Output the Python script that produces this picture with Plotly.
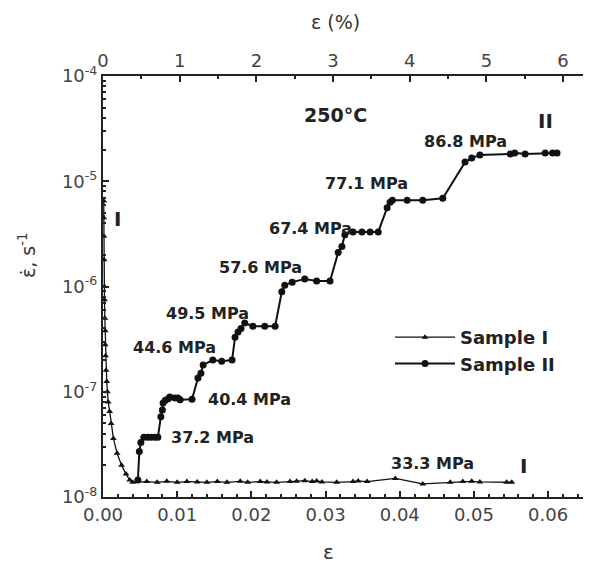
import plotly.graph_objects as go

# ---------------- data ----------------
sample1_strain = [0.0001, 0.0001, 0.00012, 0.00015, 0.0002, 0.0002, 0.00025, 0.0003, 0.0003, 0.00035,
                  0.0004, 0.0005, 0.0006, 0.0007, 0.0009, 0.0011, 0.0014, 0.0019, 0.0025, 0.0031,
                  0.0036, 0.0040, 0.0059, 0.0073, 0.0086, 0.0100, 0.0113, 0.0127, 0.0140, 0.0154,
                  0.0167, 0.0185, 0.0195, 0.0212, 0.0221, 0.0234, 0.0252, 0.0261, 0.0272, 0.0282,
                  0.0288, 0.0295, 0.0315, 0.0337, 0.0344, 0.0356, 0.0394, 0.0431, 0.0468, 0.0485,
                  0.0497, 0.0508, 0.0544, 0.0551]
sample1_rate = [6.5e-6, 4.5e-6, 3.0e-6, 1.8e-6, 1.0e-6, 7.5e-7, 5.0e-7, 3.8e-7, 2.8e-7, 2.2e-7,
                1.6e-7, 1.25e-7, 1.0e-7, 8.0e-8, 6.5e-8, 5.0e-8, 3.6e-8, 2.6e-8, 2.0e-8, 1.65e-8,
                1.45e-8, 1.38e-8, 1.40e-8, 1.38e-8, 1.41e-8, 1.38e-8, 1.40e-8, 1.39e-8, 1.38e-8, 1.40e-8,
                1.38e-8, 1.41e-8, 1.38e-8, 1.40e-8, 1.39e-8, 1.38e-8, 1.40e-8, 1.41e-8, 1.43e-8, 1.40e-8,
                1.42e-8, 1.39e-8, 1.38e-8, 1.40e-8, 1.42e-8, 1.40e-8, 1.50e-8, 1.33e-8, 1.38e-8, 1.40e-8,
                1.41e-8, 1.39e-8, 1.38e-8, 1.38e-8]

sample2_strain = [0.0047, 0.0049, 0.0051, 0.0055, 0.0060, 0.0065, 0.0070, 0.0074, 0.0078, 0.0080,
                  0.0081, 0.0084, 0.0088, 0.0090, 0.0097, 0.0101, 0.0104, 0.0120, 0.0128, 0.0132,
                  0.0135, 0.0148, 0.0160, 0.0174, 0.0178, 0.0182, 0.0186, 0.0191, 0.0202, 0.0218,
                  0.0232, 0.0241, 0.0245, 0.0255, 0.0272, 0.0288, 0.0306, 0.0317, 0.0322, 0.0326,
                  0.0337, 0.0349, 0.0360, 0.0371, 0.0383, 0.0387, 0.0390, 0.0410, 0.0431, 0.0458,
                  0.0488, 0.0497, 0.0508, 0.0549, 0.0555, 0.0569, 0.0596, 0.0606, 0.0612]
sample2_rate = [1.45e-8, 2.7e-8, 3.3e-8, 3.7e-8, 3.7e-8, 3.7e-8, 3.7e-8, 3.7e-8, 5.8e-8, 6.7e-8,
                7.8e-8, 8.3e-8, 8.6e-8, 8.9e-8, 8.7e-8, 8.7e-8, 8.4e-8, 8.5e-8, 1.35e-7, 1.5e-7,
                1.8e-7, 2.0e-7, 1.95e-7, 2.0e-7, 3.3e-7, 3.7e-7, 4.0e-7, 4.5e-7, 4.2e-7, 4.2e-7,
                4.2e-7, 8.9e-7, 1.03e-6, 1.10e-6, 1.18e-6, 1.13e-6, 1.13e-6, 2.1e-6, 2.4e-6, 3.1e-6,
                3.3e-6, 3.3e-6, 3.3e-6, 3.3e-6, 5.6e-6, 6.3e-6, 6.6e-6, 6.6e-6, 6.6e-6, 6.9e-6,
                1.52e-5, 1.66e-5, 1.78e-5, 1.82e-5, 1.86e-5, 1.82e-5, 1.86e-5, 1.86e-5, 1.86e-5]

series_names = ["Sample I", "Sample II"]
y_tick_vals = [1e-8, 1e-7, 1e-6, 1e-5, 1e-4]
y_tick_text = ["10<sup>-8</sup>", "10<sup>-7</sup>", "10<sup>-6</sup>", "10<sup>-5</sup>", "10<sup>-4</sup>"]
x_tick_vals = [0.00, 0.01, 0.02, 0.03, 0.04, 0.05, 0.06]
top_tick_vals = [0, 1, 2, 3, 4, 5, 6]
stress_labels = ["37.2 MPa", "40.4 MPa", "44.6 MPa", "49.5 MPa", "57.6 MPa",
                 "67.4 MPa", "77.1 MPa", "86.8 MPa", "33.3 MPa"]

# ---------------- layout helpers ----------------
W, H = 590, 570
L, R, T, B = 103, 583, 76, 497


def px(xp):
    return (xp - L) / (R - L)


def py(yp):
    return (B - yp) / (B - T)


FONT = "DejaVu Sans"
minor_y = [m * 10 ** e for e in range(-8, -4) for m in range(2, 10)]

fig = go.Figure()
fig.add_trace(go.Scatter(
    x=sample1_strain, y=sample1_rate, name=series_names[0], mode="lines+markers",
    line=dict(color="#111", width=1.3),
    marker=dict(symbol="triangle-up", size=6, color="#111"),
))
fig.add_trace(go.Scatter(
    x=sample2_strain, y=sample2_rate, name=series_names[1], mode="lines+markers",
    line=dict(color="#111", width=2),
    marker=dict(symbol="circle", size=7, color="#111"),
))
# invisible trace to activate top axis
fig.add_trace(go.Scatter(x=[0, 6], y=[None, None], xaxis="x2", showlegend=False,
                         hoverinfo="skip"))

axis_common = dict(showline=True, linecolor="#222", linewidth=2, ticks="inside",
                   tickcolor="#222", tickwidth=1.5, showgrid=False, zeroline=False,
                   tickfont=dict(family=FONT, size=18, color="#444"))

fig.update_layout(
    width=W, height=H,
    margin=dict(l=L, r=W - R, t=T, b=H - B),
    paper_bgcolor="white", plot_bgcolor="white",
    showlegend=True,
    legend=dict(x=px(390), y=py(319), xanchor="left", yanchor="top",
                bgcolor="rgba(0,0,0,0)", tracegroupgap=0, itemwidth=60,
                font=dict(family=FONT, size=18, color="#222", weight="bold")),
    xaxis=dict(range=[0, 0.0647], tickvals=x_tick_vals, tickformat=".2f", ticklen=6,
               minor=dict(dtick=0.002, ticks="inside", ticklen=3, tickcolor="#222"),
               **axis_common),
    xaxis2=dict(range=[0, 6.26], overlaying="x", side="top", anchor="y",
                tickvals=top_tick_vals, ticklen=6,
                minor=dict(dtick=0.5, ticks="inside", ticklen=3, tickcolor="#222"),
                **axis_common),
    yaxis=dict(type="log", range=[-8, -4], tickvals=y_tick_vals, ticktext=y_tick_text,
               ticklen=6,
               minor=dict(tickvals=minor_y, ticks="inside", ticklen=3, tickcolor="#222"),
               **axis_common),
)

ann = []


def add_text(text, xp, yp, size=16, bold=True, angle=0, color="#222"):
    ann.append(dict(text=text, x=px(xp), y=py(yp), xref="paper", yref="paper",
                    showarrow=False, textangle=angle, xanchor="center", yanchor="middle",
                    font=dict(family=FONT, size=size, color=color,
                              weight="bold" if bold else "normal")))


stress_pos = [(212, 437), (249, 399), (174, 348), (207, 313), (260, 267),
              (310, 228), (366, 183), (465, 141), (432, 463)]
for lab, (xp, yp) in zip(stress_labels, stress_pos):
    add_text(lab, xp, yp, size=16)

add_text("250°C", 335, 115, size=19)
add_text("II", 545, 121, size=20)
add_text("I", 117, 219, size=20)
add_text("I", 523, 466, size=20)
add_text("ε", 328, 552, size=20, bold=False, color="#333")
add_text("ε (%)", 335, 22, size=19, bold=False, color="#333")
add_text("ε̇, s<sup>-1</sup>", 27, 255, size=19, bold=False, angle=-90, color="#333")

fig.update_layout(annotations=ann)
fig.write_html("out.html")
